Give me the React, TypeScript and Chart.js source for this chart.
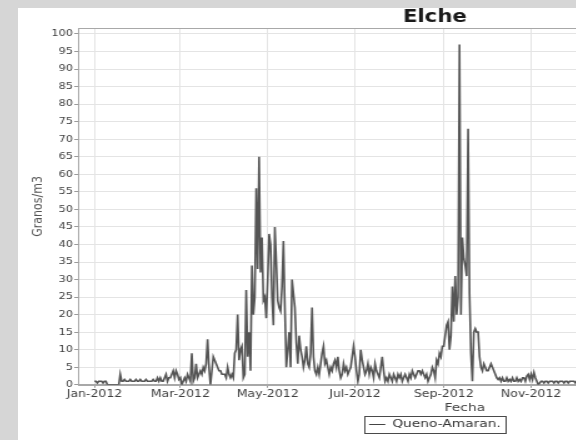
import React, { useEffect, useRef } from "react";
import { Chart, registerables } from "chart.js";

Chart.register(...registerables);

const FONT = "'DejaVu Sans', 'Noto Sans', sans-serif";

const TITLE = "Elche";
const X_TITLE = "Fecha";
const Y_TITLE = "Granos/m3";
const SERIES_LABEL = "Queno-Amaran.";

// day-of-year (2012, Jan 1 = 0) of the first day of each month
const monthStartDays = [0, 31, 60, 91, 121, 152, 182, 213, 244, 274, 305, 335];

const tickDays = [0, 60, 121, 182, 244, 305];
const tickLabels = ["Jan-2012", "Mar-2012", "May-2012", "Jul-2012", "Sep-2012", "Nov-2012"];

// daily values (granos/m3), one array per month
const jan = [1, 1, 0.5, 1, 1, 1, 0.5, 1, 1, 0, 0, 0, 0, 0, 0, 0, 0, 0, 3, 1, 1, 1.5, 1, 1, 1, 1.5, 1, 1, 1, 1.5, 1];
const feb = [1, 1.5, 1, 1, 1, 1.5, 1, 1, 1, 1, 1.5, 1, 1, 2, 1, 2, 1, 1, 2, 3, 1, 2, 2, 3, 4, 2, 4, 3, 1.5];
const mar = [2, 0, 1, 2, 1, 3, 2, 1, 9, 1, 2, 6, 2, 3, 4, 3, 5, 4, 6, 13, 5, 0, 4, 8, 7, 6, 5, 4, 4, 3, 3];
const apr = [3, 2, 5, 3, 2, 3, 2, 9, 10, 20, 7, 10, 11, 2, 3, 27, 8, 15, 4, 34, 20, 25, 56, 33, 65, 32, 42, 24, 25, 19];
const may = [30, 43, 40, 25, 17, 45, 35, 24, 22, 21, 28, 41, 22, 5, 10, 15, 5, 30, 26, 22, 12, 6, 14, 10, 8, 5, 7, 11, 6, 5, 9];
const jun = [22, 8, 4, 3, 5, 3, 6, 9, 11, 6, 7, 5, 3, 5, 4, 6, 7, 5, 8, 4, 2, 3, 6, 4, 5, 3, 4, 5, 8, 11];
const jul = [8, 4, 1, 3, 10, 7, 5, 3, 4, 6, 3, 5, 4, 2, 6, 4, 3, 2, 5, 8, 4, 1, 2, 1, 3, 2, 1, 3, 2, 1, 3];
const aug = [2, 3, 1, 2, 3, 2, 1, 3, 2, 4, 3, 2, 3, 4, 4, 3, 4, 3, 2, 3, 1, 2, 3, 5, 4, 2, 7, 6, 9, 8, 11];
const sep = [11, 14, 17, 18, 10, 14, 28, 18, 31, 20, 25, 97, 20, 42, 36, 34, 31, 73, 26, 9, 1, 15, 16, 15, 15, 8, 5, 4, 6, 5];
const oct = [4, 4, 5, 6, 5, 4, 3, 2, 1.5, 2, 1, 2, 1, 1, 2, 1, 1.5, 1, 2, 1, 1, 2, 1, 1.5, 1, 2, 2, 1, 2.5, 3, 1.5];
const nov = [3, 1.5, 3.5, 2, 1, 0, 0.5, 1, 1, 0.5, 1, 1, 0.5, 1, 1, 1, 0.5, 1, 1, 0.5, 1, 1, 1, 0.5, 1, 1, 0.5, 1, 1, 1];
const dec = [1, 0.5, 1, 1, 0.5];

const monthly = [jan, feb, mar, apr, may, jun, jul, aug, sep, oct, nov, dec];

const X_MIN = -11.5;
const X_MAX = 529;
const Y_MAX = 101.7;

const STRETCH = 1.25; // reference image is stretched horizontally
const CANVAS_W = 672;
const CANVAS_H = 432;

const outlinePlugin = {
  id: "plotOutline",
  afterDatasetsDraw(chart: any) {
    const { ctx, chartArea } = chart;
    ctx.save();
    ctx.strokeStyle = "#a8a8a8";
    ctx.lineWidth = 1;
    ctx.strokeRect(
      Math.round(chartArea.left) + 0.5,
      Math.round(chartArea.top) + 0.5,
      Math.round(chartArea.right - chartArea.left),
      Math.round(chartArea.bottom - chartArea.top)
    );
    ctx.restore();
  },
};

const legendFramePlugin = {
  id: "legendFrame",
  afterDraw(chart: any) {
    const lg = chart.legend;
    if (!lg || !lg.legendHitBoxes || !lg.legendHitBoxes.length) return;
    const hb = lg.legendHitBoxes[0];
    const ctx = chart.ctx;
    ctx.save();
    ctx.strokeStyle = "#4a4a4a";
    ctx.lineWidth = 1;
    ctx.strokeRect(
      Math.round(hb.left - 4) + 0.5,
      Math.round(hb.top - 3) + 0.5,
      Math.round(hb.width + 8),
      Math.round(hb.height + 6)
    );
    ctx.restore();
  },
};

export default function App() {
  const ref = useRef<HTMLCanvasElement | null>(null);

  useEffect(() => {
    if (!ref.current) return;
    const points = monthly.flatMap((vals, m) =>
      vals.map((v, i) => ({ x: monthStartDays[m] + i, y: v }))
    );
    const lineColor = "#555555";
    const chart = new Chart(ref.current, {
      type: "line",
      data: {
        datasets: [
          {
            label: SERIES_LABEL,
            data: points,
            borderColor: lineColor,
            backgroundColor: lineColor,
            borderWidth: 1.6,
            pointRadius: 0,
            tension: 0,
            fill: false,
          },
        ],
      },
      options: {
        animation: false,
        responsive: false,
        events: [],
        layout: { padding: { left: 0, right: 5, top: 0, bottom: 0 } },
        plugins: {
          title: {
            display: true,
            text: TITLE,
            color: "#1a1a1a",
            font: { family: FONT, size: 17, weight: "bold", lineHeight: 1 },
            padding: { top: 1, bottom: 2 },
          },
          legend: {
            display: true,
            position: "bottom",
            labels: {
              boxWidth: 13,
              boxHeight: 1,
              padding: 4,
              color: "#333333",
              font: { family: FONT, size: 11 },
              generateLabels: (c: any) =>
                Chart.defaults.plugins.legend.labels
                  .generateLabels(c)
                  .map((it: any) => ({ ...it, fillStyle: "#444444", strokeStyle: "#444444", lineWidth: 0 })),
            },
          },
          tooltip: { enabled: false },
        },
        scales: {
          x: {
            type: "linear",
            min: X_MIN,
            max: X_MAX,
            afterBuildTicks: (axis: any) => {
              axis.ticks = tickDays.map((d) => ({ value: d }));
            },
            ticks: {
              autoSkip: false,
              maxRotation: 0,
              padding: 1,
              color: "#404040",
              font: { family: FONT, size: 10 },
              callback: (v: any) => {
                const i = tickDays.indexOf(Number(v));
                return i >= 0 ? tickLabels[i] : "";
              },
            },
            grid: { color: "#e4e4e4", tickColor: "#9a9a9a", tickLength: 3 },
            border: { color: "#a8a8a8" },
            title: {
              display: true,
              text: X_TITLE,
              color: "#404040",
              font: { family: FONT, size: 11 },
              padding: { top: 0, bottom: 0 },
            },
          },
          y: {
            type: "linear",
            min: 0,
            max: Y_MAX,
            afterFit: (scale: any) => {
              scale.width = 48;
            },
            ticks: {
              stepSize: 5,
              includeBounds: false,
              padding: 1,
              color: "#404040",
              font: { family: FONT, size: 9 },
            },
            grid: { color: "#e4e4e4", tickColor: "#9a9a9a", tickLength: 3 },
            border: { color: "#a8a8a8" },
            title: {
              display: true,
              text: Y_TITLE,
              color: "#555555",
              font: { family: FONT, size: 11 },
              padding: { top: 10, bottom: 0 },
            },
          },
        },
      } as any,
      plugins: [outlinePlugin, legendFramePlugin],
    });
    return () => chart.destroy();
  }, []);

  return (
    <div
      style={{
        position: "fixed",
        left: 0,
        top: 0,
        width: 576,
        height: 440,
        overflow: "hidden",
        background: "#d6d6d6",
      }}
    >
      <div
        style={{
          position: "absolute",
          left: 18,
          top: 8,
          width: CANVAS_W * STRETCH,
          height: CANVAS_H,
          background: "#ffffff",
          overflow: "hidden",
        }}
      >
        <div
          style={{
            width: CANVAS_W,
            height: CANVAS_H,
            transform: `scaleX(${STRETCH})`,
            transformOrigin: "0 0",
          }}
        >
          <canvas ref={ref} width={CANVAS_W} height={CANVAS_H} style={{ display: "block" }} />
        </div>
      </div>
    </div>
  );
}
